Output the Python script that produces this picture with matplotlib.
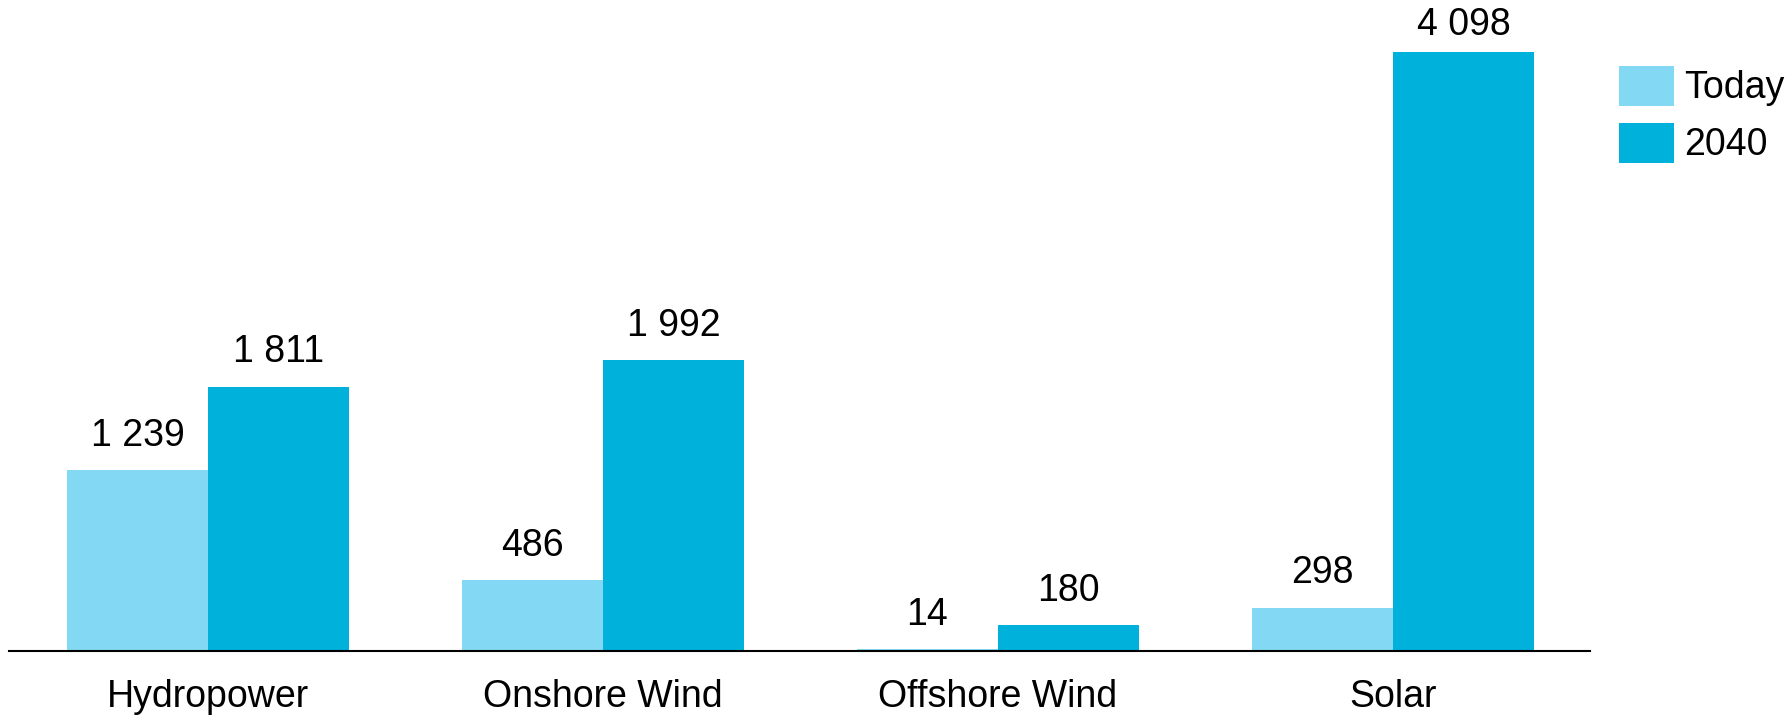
import numpy as np
import matplotlib.pyplot as plt

plt.rcParams['font.family'] = ['Liberation Sans', 'DejaVu Sans']

categories = ['Hydropower', 'Onshore Wind', 'Offshore Wind', 'Solar']
today = [1239, 486, 14, 298]
y2040 = [1811, 1992, 180, 4098]
series_names = ['Today', '2040']

c_today = '#83d9f3'
c_2040 = '#00b1dc'

fig = plt.figure(figsize=(17.91, 7.17), dpi=100)
ax = fig.add_axes([0.005, 0.092, 0.883, 0.908])

x = np.arange(len(categories))
w = 0.357
b1 = ax.bar(x - w / 2, today, w, color=c_today, label=series_names[0])
b2 = ax.bar(x + w / 2, y2040, w, color=c_2040, label=series_names[1])

ymax = 4457

def fmt(v):
  return f'{v:,}'.replace(',', ' ')

# labels sit ~24px above the bar, but are pushed down near the top edge
for bars, vals in ((b1, today), (b2, y2040)):
  for r, v in zip(bars, vals):
    ax.text(r.get_x() + r.get_width() / 2, min(v + 165, ymax - 240), fmt(v),
            ha='center', va='baseline', fontsize=27)

ax.set_xlim(-0.504, 3.5)
ax.set_ylim(0, ymax)
ax.set_xticks(x)
ax.set_xticklabels(categories, fontsize=27)
ax.tick_params(axis='x', length=0, pad=20)
ax.set_yticks([])
for s in ('top', 'right', 'left'):
  ax.spines[s].set_visible(False)
ax.spines['bottom'].set_linewidth(1.5)

fig.legend(loc='upper left', bbox_to_anchor=(1600 / 1791, 1 - 47 / 717),
           frameon=False, fontsize=27, borderpad=0, handlelength=1.46,
           handleheight=1.264, handletextpad=0.28, labelspacing=0.44)

fig.savefig('out.png', dpi=100)
